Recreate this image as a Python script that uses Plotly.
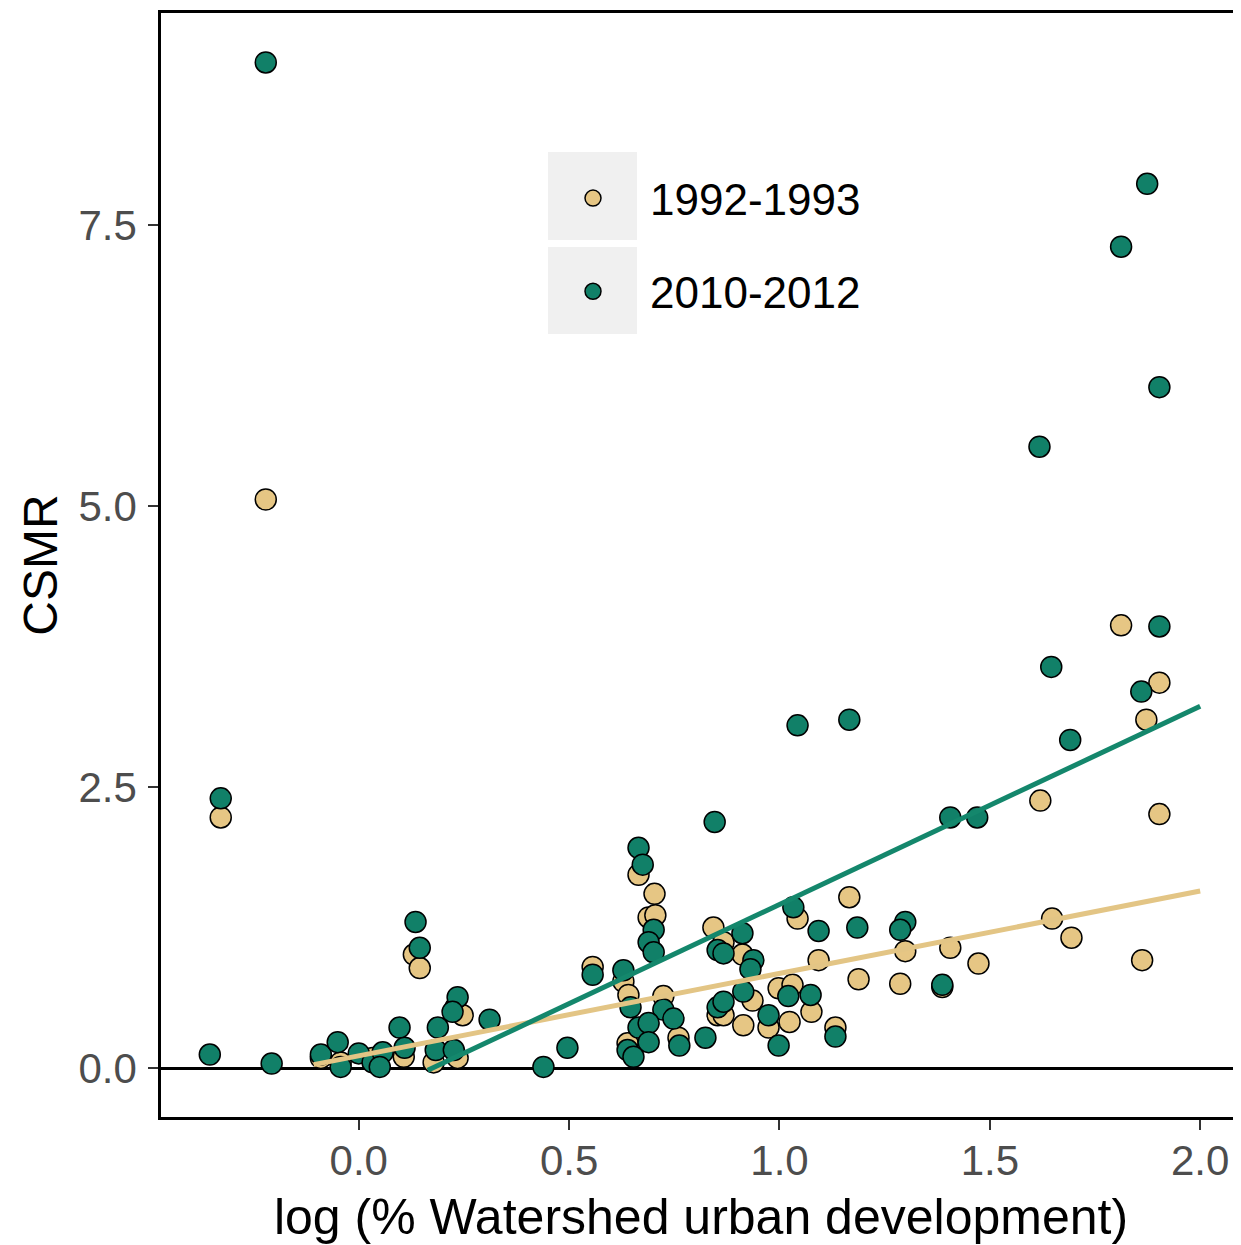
import plotly.graph_objects as go

# ---- data ----
green_x = [-0.221, -0.328, -0.354, -0.207, -0.090, -0.050, -0.043, 0.000, 0.033, 0.057,
           0.050, 0.097, 0.109, 0.135, 0.145, 0.188, 0.183, 0.226, 0.235, 0.223,
           0.311, 0.439, 0.496, 0.556, 0.629, 0.646, 0.665, 0.675, 0.701, 0.689,
           0.701, 0.724, 0.665, 0.689, 0.748, 0.762, 0.689, 0.639, 0.653, 0.824,
           0.853, 0.853, 0.846, 0.912, 0.867, 0.938, 0.931, 0.914, 0.867, 0.974,
           1.021, 1.074, 0.998, 1.033, 1.093, 1.185, 1.133, 1.043, 1.166, 1.299,
           1.287, 1.387, 1.406, 1.470, 1.618, 1.646, 1.691, 1.812, 1.874, 1.860,
           1.903, 1.903]
green_y = [8.95, 2.40, 0.12, 0.04, 0.12, 0.23, 0.01, 0.13, 0.05, 0.14,
           0.01, 0.36, 0.18, 1.30, 1.07, 0.36, 0.16, 0.16, 0.63, 0.50,
           0.43, 0.01, 0.18, 0.83, 0.87, 0.54, 1.96, 1.81, 1.23, 1.12,
           1.03, 0.52, 0.36, 0.40, 0.44, 0.20, 0.23, 0.16, 0.10, 0.27,
           1.05, 0.54, 2.19, 1.20, 1.02, 0.96, 0.88, 0.68, 0.59, 0.47,
           0.64, 0.65, 0.20, 1.43, 1.22, 1.25, 0.28, 3.05, 3.10, 1.30,
           1.23, 0.74, 2.23, 2.23, 5.53, 3.57, 2.92, 7.31, 7.87, 3.35,
           6.06, 3.93]

tan_x = [-0.221, -0.328, 0.131, 0.145, 0.230, 0.247, 0.107, 0.178, 0.235, 0.556,
         0.629, 0.641, 0.724, 0.665, 0.703, 0.689, 0.705, 0.760, 0.639, 0.853,
         0.843, 0.867, 0.912, 0.936, 0.998, 1.031, 1.076, 0.867, 1.024, 0.914,
         0.974, 1.133, 1.043, 1.166, 1.093, 1.188, 1.299, 1.287, 1.387, 1.406,
         1.473, 1.620, 1.648, 1.694, 1.862, 1.812, 1.903, 1.872, 1.903, -0.043,
         0.033, -0.090]
tan_y = [5.06, 2.23, 1.01, 0.89, 0.54, 0.47, 0.10, 0.05, 0.09, 0.90,
         0.77, 0.65, 0.64, 1.72, 1.55, 1.34, 1.36, 0.27, 0.22, 0.47,
         1.25, 1.12, 1.01, 0.60, 0.71, 0.74, 0.50, 0.47, 0.41, 0.38,
         0.36, 0.36, 1.33, 1.52, 0.96, 0.79, 1.04, 0.75, 0.72, 1.07,
         0.93, 2.38, 1.33, 1.16, 0.96, 3.94, 3.43, 3.10, 2.26, 0.05,
         0.09, 0.09]

# fitted lines (endpoints)
tan_fit_x = [-0.107, 2.0]
tan_fit_y = [0.03, 1.575]
green_fit_x = [0.164, 2.0]
green_fit_y = [-0.02, 3.22]

x_ticks = [0.0, 0.5, 1.0, 1.5, 2.0]
x_tick_labels = ["0.0", "0.5", "1.0", "1.5", "2.0"]
y_ticks = [0.0, 2.5, 5.0, 7.5]
y_tick_labels = ["0.0", "2.5", "5.0", "7.5"]

TAN = "#E6C684"
GREEN = "#118068"
TAN_LINE = "#E3C585"
GREEN_LINE = "#14876C"
FONT = "Liberation Sans, Arial, sans-serif"

fig = go.Figure()
fig.add_trace(go.Scatter(x=tan_x, y=tan_y, mode="markers", name="1992-1993",
                         legendgroup="a",
                         marker=dict(size=21, color=TAN, line=dict(color="black", width=1.5))))
fig.add_trace(go.Scatter(x=green_x, y=green_y, mode="markers", name="2010-2012",
                         legendgroup="b",
                         marker=dict(size=21, color=GREEN, line=dict(color="black", width=1.5))))
fig.add_trace(go.Scatter(x=tan_fit_x, y=tan_fit_y, mode="lines", showlegend=False,
                         line=dict(color=TAN_LINE, width=5)))
fig.add_trace(go.Scatter(x=green_fit_x, y=green_fit_y, mode="lines", showlegend=False,
                         line=dict(color=GREEN_LINE, width=5)))

# page body adds an 8px offset; compensate so the page matches the window
OFF = 8
W, H = 1241 - OFF, 1245 - OFF
L, R, T, B = 161 - OFF, 0, 13 - OFF, 128
pw = W - L - R
ph = H - T - B

def px(xp):  # window pixel -> paper x
    return (xp - OFF - L) / pw

def py(yp):  # window pixel -> paper y
    return (H - B - (yp - OFF)) / ph

# legend key backgrounds
for (y0, y1) in [(152, 240), (247, 334)]:
    fig.add_shape(type="rect", xref="paper", yref="paper",
                  x0=px(548), x1=px(637), y0=py(y1), y1=py(y0),
                  fillcolor="#F0F0F0", line=dict(width=0), layer="below")

fig.update_layout(
    width=W, height=H,
    margin=dict(l=L, r=R, t=T, b=B, autoexpand=False),
    plot_bgcolor="white", paper_bgcolor="white",
    font=dict(family=FONT, color="black"),
    legend=dict(x=px(536), y=py(163), xanchor="left", yanchor="top",
                bgcolor="rgba(0,0,0,0)", font=dict(size=44, color="black"),
                tracegroupgap=33, itemsizing="trace", itemwidth=104),
    xaxis=dict(range=[-0.470, 2.097], tickvals=x_ticks, ticktext=x_tick_labels,
               showgrid=False, zeroline=False, showline=True, linecolor="black",
               linewidth=2.5, mirror=True, ticks="outside", ticklen=10, tickwidth=2,
               tickcolor="#333333", tickfont=dict(size=42, color="#4D4D4D"),
               ticklabelstandoff=-5, automargin=False,
               title=dict(text="log (% Watershed urban development)",
                          font=dict(size=50, color="black"), standoff=16)),
    yaxis=dict(range=[-0.436, 9.39], tickvals=y_ticks, ticktext=y_tick_labels,
               showgrid=False, zeroline=True, zerolinecolor="black", zerolinewidth=2.5,
               showline=True, linecolor="black", linewidth=2.5, mirror=False,
               ticks="outside", ticklen=10, tickwidth=2, tickcolor="#333333",
               tickfont=dict(size=42, color="#4D4D4D"), ticklabelstandoff=3,
               automargin=False,
               title=dict(text="CSMR", font=dict(size=48, color="black"), standoff=6)),
)

fig.write_html("out.html")
